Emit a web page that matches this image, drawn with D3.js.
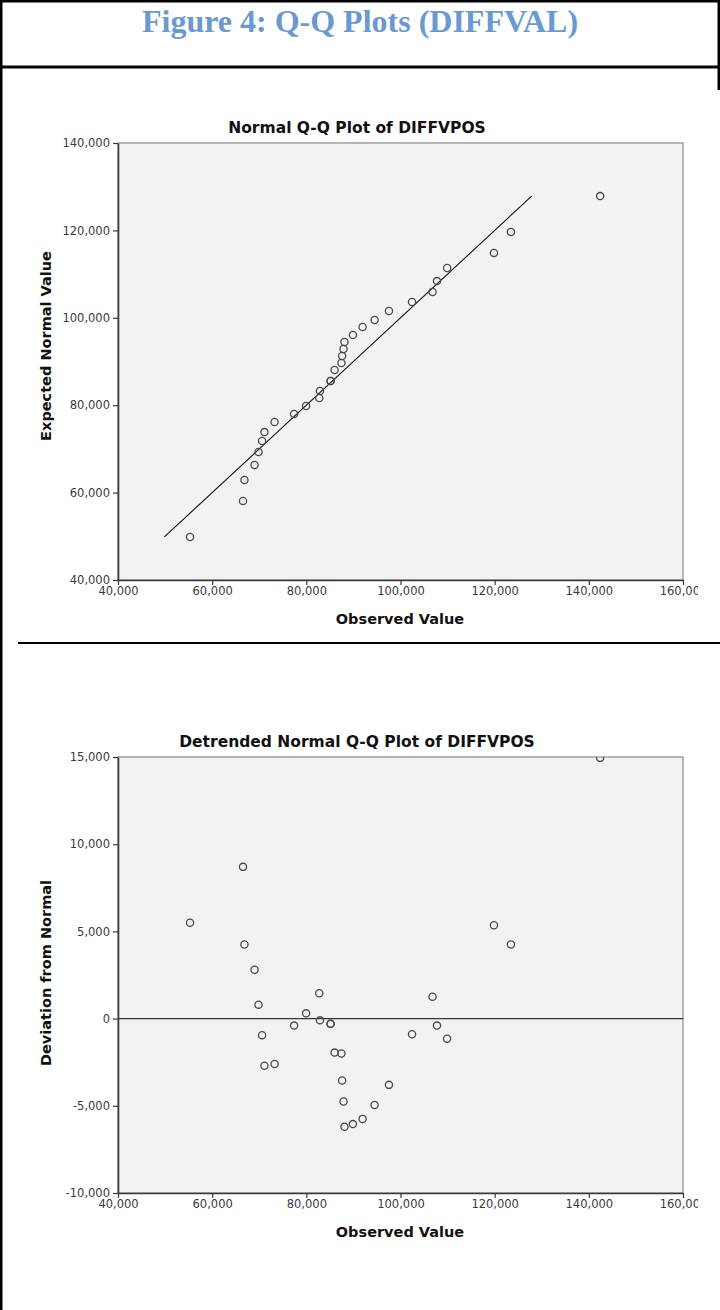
<!DOCTYPE html>
<html>
<head>
<meta charset="utf-8">
<script src="https://cdn.jsdelivr.net/npm/d3@7/dist/d3.min.js"></script>
<style>
  html, body { margin: 0; padding: 0; background: #fff; }
  svg { display: block; }
  .tick text { font-family: "DejaVu Sans", sans-serif; font-size: 11.5px; fill: #3a3a3a; }
  .axis-title { font-family: "DejaVu Sans", sans-serif; font-weight: bold; font-size: 14.5px; fill: #111; }
  .chart-title { font-family: "DejaVu Sans", sans-serif; font-weight: bold; font-size: 15.5px; fill: #111; }
</style>
</head>
<body>
<div id="chart"></div>
<script>
const observed = [55300, 66550, 66850, 69000, 69850, 70600, 71100, 73250, 77400, 79950,
                  82750, 82900, 85150, 85150, 86000, 87450, 87600, 87900, 88100, 89900,
                  91950, 94500, 97550, 102450, 106800, 107750, 109900, 119850, 123450, 142400];
const expected = [49850, 58100, 62900, 66300, 69300, 71800, 73850, 76150, 78000, 79800,
                  81650, 83250, 85550, 85550, 88050, 89650, 91250, 92850, 94450, 96050,
                  97900, 99500, 101550, 103600, 105900, 108400, 111400, 114850, 119650, 127850];
const deviation = [5500, 8700, 4250, 2800, 800, -950, -2700, -2600, -400, 300,
                   1450, -100, -300, -300, -1950, -2000, -3550, -4750, -6200, -6050,
                   -5750, -4950, -3800, -900, 1250, -400, -1150, 5350, 4250, 14950];
const refLine = [49850, 127850];
const xTicks = [40000, 60000, 80000, 100000, 120000, 140000, 160000];
const yTicksQQ = [40000, 60000, 80000, 100000, 120000, 140000];
const yTicksDetr = [-10000, -5000, 0, 5000, 10000, 15000];

const W = 720, H = 1310;
const fmt = d3.formatLocale({decimal: '.', thousands: ',', grouping: [3], currency: ['', ''], minus: '-'}).format(',');

const svg = d3.select('#chart').append('svg')
              .attr('width', W)
              .attr('height', H);

const defs = svg.append('defs');
defs.append('clipPath').attr('id', 'pageclip')
    .append('rect').attr('x', 0).attr('y', 0).attr('width', 698).attr('height', H);

// document frame
svg.append('rect').attr('x', 0).attr('y', 0).attr('width', 2.5).attr('height', H).attr('fill', '#000');
svg.append('rect').attr('x', 0).attr('y', 0).attr('width', W).attr('height', 2.5).attr('fill', '#000');
svg.append('rect').attr('x', 717.5).attr('y', 0).attr('width', 2.5).attr('height', 90).attr('fill', '#000');
svg.append('rect').attr('x', 0).attr('y', 65.5).attr('width', W).attr('height', 3).attr('fill', '#000');
svg.append('rect').attr('x', 18).attr('y', 642).attr('width', W - 18).attr('height', 2).attr('fill', '#000');

svg.append('text')
   .attr('x', 360)
   .attr('y', 32)
   .attr('text-anchor', 'middle')
   .style('font-family', '"Liberation Serif", "Times New Roman", serif')
   .style('font-weight', 'bold')
   .style('font-size', '32px')
   .style('fill', '#6a99d0')
   .text('Figure 4: Q-Q Plots (DIFFVAL)');

function drawPlot(cfg) {
  const g = svg.append('g').attr('clip-path', 'url(#pageclip)');
  const left = 118, right = 683;
  const x = d3.scaleLinear().domain([40000, 160000]).range([left, right]);
  const y = d3.scaleLinear().domain(cfg.yDomain).range([cfg.bottom, cfg.top]);

  g.append('rect')
   .attr('x', left).attr('y', cfg.top)
   .attr('width', right - left).attr('height', cfg.bottom - cfg.top)
   .attr('fill', '#f2f2f2')
   .attr('stroke', '#8a8a8a')
   .attr('stroke-width', 1.2);

  const clipId = cfg.id + '-clip';
  defs.append('clipPath').attr('id', clipId)
      .append('rect').attr('x', left).attr('y', cfg.top)
      .attr('width', right - left).attr('height', cfg.bottom - cfg.top);

  const inner = g.append('g').attr('clip-path', `url(#${clipId})`);
  cfg.lines(inner, x, y);

  inner.selectAll('circle')
       .data(cfg.points)
       .enter()
       .append('circle')
       .attr('cx', d => x(d[0]))
       .attr('cy', d => y(d[1]))
       .attr('r', 3.6)
       .attr('fill', 'none')
       .attr('stroke', '#4a4a4a')
       .attr('stroke-width', 1.3);

  const xAxis = d3.axisBottom(x).tickValues(xTicks).tickFormat(fmt)
                  .tickSize(5).tickSizeOuter(0).tickPadding(2);
  const yAxis = d3.axisLeft(y).tickValues(cfg.yTicks).tickFormat(fmt)
                  .tickSize(5).tickSizeOuter(0).tickPadding(3);

  const gx = g.append('g')
              .attr('transform', `translate(0, ${cfg.bottom})`)
              .call(xAxis);
  const gy = g.append('g')
              .attr('transform', `translate(${left}, 0)`)
              .call(yAxis);
  [gx, gy].forEach(a => {
    a.select('.domain').attr('stroke', '#3a3a3a').attr('stroke-width', 1.6);
    a.selectAll('.tick line').attr('stroke', '#3a3a3a').attr('stroke-width', 1.2);
  });

  g.append('text').attr('class', 'chart-title')
   .attr('x', 357).attr('y', cfg.top - 10)
   .attr('text-anchor', 'middle')
   .text(cfg.title);

  g.append('text').attr('class', 'axis-title')
   .attr('x', 400).attr('y', cfg.bottom + 44)
   .attr('text-anchor', 'middle')
   .text('Observed Value');

  g.append('text').attr('class', 'axis-title')
   .attr('transform', `translate(51, ${cfg.yLabelCenter}) rotate(-90)`)
   .attr('text-anchor', 'middle')
   .text(cfg.yLabel);
}

drawPlot({
  id: 'qq',
  top: 143, bottom: 580,
  yDomain: [40000, 140000],
  yTicks: yTicksQQ,
  title: 'Normal Q-Q Plot of DIFFVPOS',
  yLabel: 'Expected Normal Value',
  yLabelCenter: 346,
  points: observed.map((v, i) => [v, expected[i]]),
  lines: (g, x, y) => {
    g.append('line')
     .attr('x1', x(refLine[0])).attr('y1', y(refLine[0]))
     .attr('x2', x(refLine[1])).attr('y2', y(refLine[1]))
     .attr('stroke', '#111').attr('stroke-width', 1.1);
  }
});

drawPlot({
  id: 'detr',
  top: 757, bottom: 1193,
  yDomain: [-10000, 15000],
  yTicks: yTicksDetr,
  title: 'Detrended Normal Q-Q Plot of DIFFVPOS',
  yLabel: 'Deviation from Normal',
  yLabelCenter: 973,
  points: observed.map((v, i) => [v, deviation[i]]),
  lines: (g, x, y) => {
    g.append('line')
     .attr('x1', x(40000)).attr('y1', y(0))
     .attr('x2', x(160000)).attr('y2', y(0))
     .attr('stroke', '#333').attr('stroke-width', 1.2);
  }
});
</script>
</body>
</html>
